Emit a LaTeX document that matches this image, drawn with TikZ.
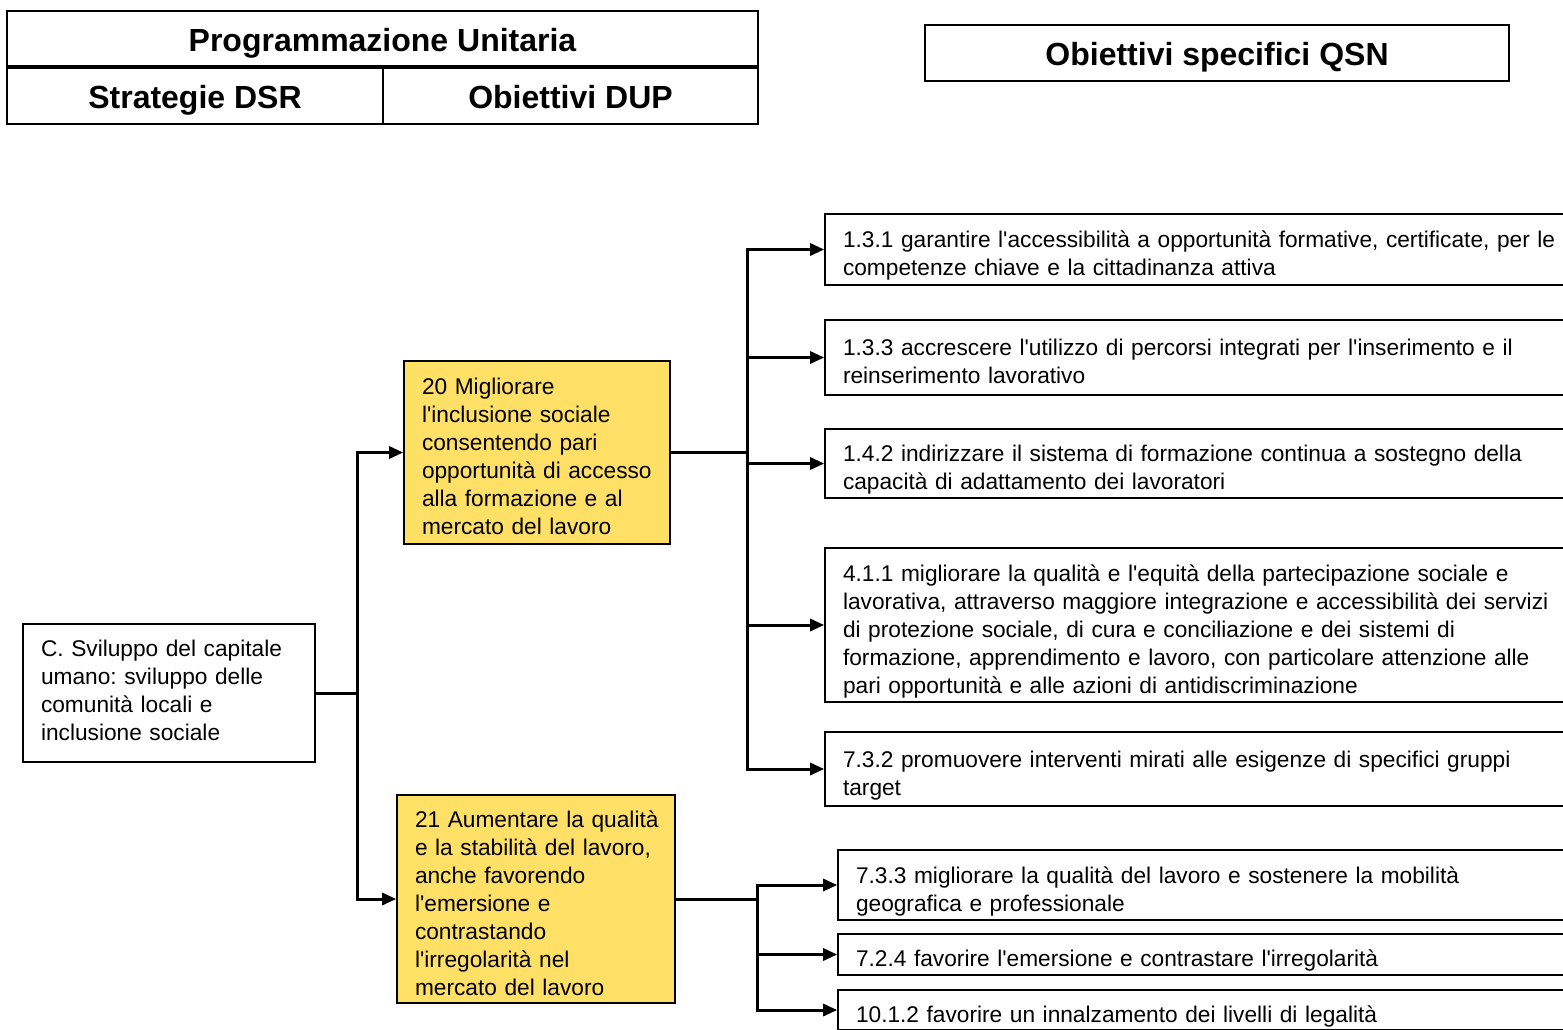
\documentclass[tikz,border=0pt]{standalone}
\usepackage{fontspec}
\setmainfont{Liberation Sans}
\usetikzlibrary{arrows.meta}
\definecolor{goalyellow}{RGB}{255,224,102}
% left-aligned block of lines that never re-wraps
\newcommand\rows[1]{\begin{tabular}{@{}l@{}}#1\end{tabular}}
% same block, set a little lower inside its box
\newcommand\lrows[1]{\raisebox{-3.4pt}[\height][\depth]{\rows{#1}}}
\newcommand\ap{\textquotesingle}
\frenchspacing
\begin{document}
\begin{tikzpicture}[x=0.5pt,y=-0.5pt,
  every node/.style={font=\fontsize{11.35}{14}\selectfont},
  head/.style={draw, line width=0.8pt, inner sep=0pt, text height=12.5pt, text depth=0pt,
    font=\fontsize{16}{19}\selectfont\bfseries},
  box/.style={draw, line width=0.8pt, inner xsep=9pt, inner ysep=0pt, align=left},
  goal/.style={box, fill=goalyellow},
  qbox/.style={box, minimum width=377.5pt, text width=359.5pt},
  qboxb/.style={box, minimum width=371pt, text width=353pt},
  link/.style={line width=1.5pt},
  arr/.style={link, -{Triangle[length=7pt,width=6pt]}}]
\useasboundingbox (0,0) rectangle (1563,1029);
\clip (0,0) rectangle (1563,1029);

% header table
\node[head, text height=13pt, minimum width=375.5pt, minimum height=27.5pt] (pu) at (382.5,38.5) {Programmazione Unitaria};
\node[head, minimum width=188pt, minimum height=28pt] (dsr) at (195,96) {Strategie DSR};
\node[head, minimum width=187.5pt, minimum height=28pt] (dup) at (570.5,96) {Obiettivi DUP};
\node[head, minimum width=292pt, minimum height=28pt] (qsn) at (1217,53) {Obiettivi specifici QSN};

% strategy
\node[box, minimum width=146pt, minimum height=69pt, text width=128pt] (c) at (169,693)
  {\rows{C. Sviluppo del capitale\\ umano: sviluppo delle\\ comunità locali e\\ inclusione sociale}};

% DUP objectives
\node[goal, minimum width=133pt, minimum height=91.5pt, text width=115pt] (g20) at (537,452.5)
  {\lrows{20 Migliorare\\ l\ap inclusione sociale\\ consentendo pari\\ opportunità di accesso\\ alla formazione e al\\ mercato del lavoro}};
\node[goal, minimum width=139pt, minimum height=104pt, text width=121pt] (g21) at (536,899)
  {\lrows{21 Aumentare la qualità\\ e la stabilità del lavoro,\\ anche favorendo\\ l\ap emersione e\\ contrastando\\ l\ap irregolarità nel\\ mercato del lavoro}};

% QSN specific objectives
\node[qbox, minimum height=35.5pt] (q1) at (1202.5,249.5)
  {\lrows{1.3.1 garantire l\ap accessibilità a opportunità formative, certificate, per le\\ competenze chiave e la cittadinanza attiva}};
\node[qbox, minimum height=37.5pt] (q2) at (1202.5,357.5)
  {\lrows{1.3.3 accrescere l\ap utilizzo di percorsi integrati per l\ap inserimento e il\\ reinserimento lavorativo}};
\node[qbox, minimum height=34.5pt] (q3) at (1202.5,463.5)
  {\lrows{1.4.2 indirizzare il sistema di formazione continua a sostegno della\\ capacità di adattamento dei lavoratori}};
\node[qbox, minimum height=77pt] (q4) at (1202.5,625)
  {\lrows{4.1.1 migliorare la qualità e l\ap equità della partecipazione sociale e\\ lavorativa, attraverso maggiore integrazione e accessibilità dei servizi\\ di protezione sociale, di cura e conciliazione e dei sistemi di\\ formazione, apprendimento e lavoro, con particolare attenzione alle\\ pari opportunità e alle azioni di antidiscriminazione}};
\node[qbox, minimum height=37pt] (q5) at (1202.5,769)
  {\lrows{7.3.2 promuovere interventi mirati alle esigenze di specifici gruppi\\ target}};
\node[qboxb, minimum height=35pt] (q6) at (1209,885)
  {\lrows{7.3.3 migliorare la qualità del lavoro e sostenere la mobilità\\ geografica e professionale}};
\node[qboxb, minimum height=20.5pt] (q7) at (1209,954.5)
  {\lrows{7.2.4 favorire l\ap emersione e contrastare l\ap irregolarità}};
\node[qboxb, minimum height=20pt] (q8) at (1209,1010)
  {\lrows{10.1.2 favorire un innalzamento dei livelli di legalità}};

% connectors
\coordinate (ja) at (357,693);
\draw[link] (c.east) -- (ja);
\draw[arr] (ja) |- (g20.west);
\draw[arr] (ja) |- (g21.west);

\coordinate (jb) at (747,452.5);
\draw[link] (g20.east) -- (jb);
\foreach \q in {q1,q2,q3,q4,q5} \draw[arr] (jb) |- (\q.west);

\coordinate (jc) at (757,899);
\draw[link] (g21.east) -- (jc);
\foreach \q in {q6,q7,q8} \draw[arr] (jc) |- (\q.west);
\end{tikzpicture}
\end{document}
